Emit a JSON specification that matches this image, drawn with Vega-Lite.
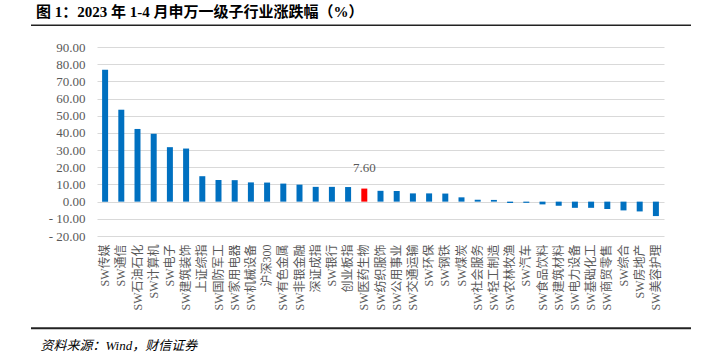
{
  "$schema": "https://vega.github.io/schema/vega-lite/v6.json",
  "width": 567,
  "height": 189,
  "autosize": {"type": "none"},
  "padding": {"left": 97, "top": 47, "right": 39, "bottom": 125},
  "background": "white",
  "title": {
    "text": "图 1：2023 年 1-4 月申万一级子行业涨跌幅（%）",
    "anchor": "start",
    "frame": "group",
    "dx": -61,
    "offset": 5,
    "font": "Liberation Serif, Noto Sans CJK SC",
    "fontSize": 15,
    "fontWeight": "bold",
    "color": "#000000"
  },
  "config": {
    "view": {"stroke": null},
    "font": "Liberation Serif, Noto Sans CJK SC"
  },
  "data": {
    "values": [
      {"name": "SW传媒", "value": 76.8},
      {"name": "SW通信", "value": 53.5},
      {"name": "SW石油石化", "value": 42.3},
      {"name": "SW计算机", "value": 39.5},
      {"name": "SW电子", "value": 31.7},
      {"name": "SW建筑装饰", "value": 30.9},
      {"name": "上证综指", "value": 14.8},
      {"name": "SW国防军工", "value": 12.6},
      {"name": "SW家用电器", "value": 12.5},
      {"name": "SW机械设备", "value": 11.2},
      {"name": "沪深300", "value": 11.1},
      {"name": "SW有色金属", "value": 10.5},
      {"name": "SW非银金融", "value": 9.9},
      {"name": "深证成指", "value": 8.6},
      {"name": "SW银行", "value": 8.6},
      {"name": "创业板指", "value": 8.5},
      {"name": "SW医药生物", "value": 7.6},
      {"name": "SW纺织服饰", "value": 6.3},
      {"name": "SW公用事业", "value": 6.2},
      {"name": "SW交通运输", "value": 4.8},
      {"name": "SW环保", "value": 4.8},
      {"name": "SW钢铁", "value": 4.7},
      {"name": "SW煤炭", "value": 2.5},
      {"name": "SW社会服务", "value": 1.1},
      {"name": "SW轻工制造", "value": 1.0},
      {"name": "SW农林牧渔", "value": -0.8},
      {"name": "SW汽车", "value": -0.7},
      {"name": "SW食品饮料", "value": -1.6},
      {"name": "SW建筑材料", "value": -2.4},
      {"name": "SW电力设备", "value": -3.6},
      {"name": "SW基础化工", "value": -3.6},
      {"name": "SW商贸零售", "value": -4.3},
      {"name": "SW综合", "value": -5.1},
      {"name": "SW房地产", "value": -5.7},
      {"name": "SW美容护理", "value": -8.4}
    ]
  },
  "layer": [
    {
      "layer": [
        {
          "mark": {"type": "bar"},
          "encoding": {
            "x": {
              "field": "name",
              "type": "nominal",
              "sort": null,
              "scale": {"paddingInner": 0.63, "paddingOuter": 0.315},
              "axis": {
                "labelAngle": -90,
                "labelFontSize": 12,
                "labelColor": "#595959",
                "labelPadding": 8,
                "ticks": false,
                "domain": false,
                "title": "资料来源：Wind，财信证券",
                "titleFontStyle": "italic",
                "titleFontWeight": "normal",
                "titleFontSize": 13,
                "titleColor": "#000000",
                "titleAnchor": "start",
                "titleAlign": "left",
                "titleBaseline": "alphabetic",
                "titleX": -57,
                "titleY": 113
              }
            },
            "y": {
              "field": "value",
              "type": "quantitative",
              "scale": {"domain": [-20, 90], "nice": false},
              "axis": {
                "values": [-20, -10, 0, 10, 20, 30, 40, 50, 60, 70, 80, 90],
                "tickCount": 20,
                "labelExpr": "replace(format(datum.value, '.2f'), '−', '- ')",
                "labelOverlap": false,
                "grid": true,
                "gridColor": "#d9d9d9",
                "gridWidth": 1,
                "domain": false,
                "ticks": false,
                "labelPadding": 12,
                "labelFontSize": 13,
                "labelColor": "#595959",
                "title": null
              }
            },
            "color": {
              "condition": {"test": "datum.name === 'SW医药生物'", "value": "#FF0000"},
              "value": "#0070C0"
            }
          }
        },
        {
          "transform": [{"filter": "datum.name === 'SW医药生物'"}],
          "mark": {"type": "text", "dy": -14, "fontSize": 13, "color": "#595959", "baseline": "bottom"},
          "encoding": {
            "x": {"field": "name", "type": "nominal", "sort": null},
            "y": {"field": "value", "type": "quantitative"},
            "text": {"field": "value", "type": "quantitative", "format": ".2f"}
          }
        }
      ]
    },
    {
      "transform": [{"filter": "datum.name === 'SW传媒'"}],
      "layer": [
        {
          "mark": {"type": "rule", "color": "#222222", "strokeWidth": 2},
          "encoding": {
            "x": {"datum": -0.1164, "type": "quantitative", "scale": {"domain": [0, 1], "nice": false, "zero": false}, "axis": null},
            "x2": {"datum": 1.0476},
            "y": {"datum": -0.4884, "type": "quantitative", "scale": {"domain": [0, 1], "nice": false, "zero": false}, "axis": null}
          }
        },
        {
          "mark": {"type": "rule", "color": "#222222", "strokeWidth": 1.5},
          "encoding": {
            "x": {"datum": -0.1164, "type": "quantitative", "axis": null},
            "x2": {"datum": 1.0476},
            "y": {"datum": 1.115, "type": "quantitative", "axis": null}
          }
        }
      ]
    }
  ],
  "resolve": {"scale": {"x": "independent", "y": "independent"}}
}
